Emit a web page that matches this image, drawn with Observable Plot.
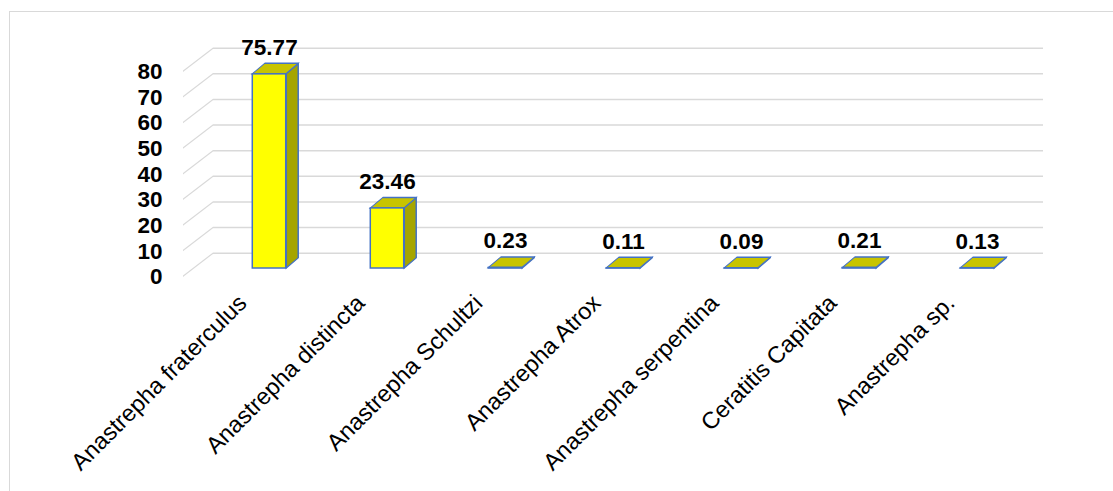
<!DOCTYPE html>
<html>
<head>
<meta charset="utf-8">
<script src="https://cdn.jsdelivr.net/npm/d3@7"></script>
<script src="https://cdn.jsdelivr.net/npm/@observablehq/plot@0.6"></script>
<style>
  html, body { margin: 0; padding: 0; background: #fff; overflow: hidden; }
  #frame { position: absolute; left: 9px; top: 11px; width: 1300px; height: 700px;
           border: 1.5px solid #d9d9d9; box-sizing: border-box; }
  #chart { position: absolute; left: 0; top: 0; }
</style>
</head>
<body>
<div id="frame"></div>
<div id="chart"></div>
<script>
// Fruit-fly species captured (% of total)
const species = [
  "Anastrepha fraterculus",
  "Anastrepha distincta",
  "Anastrepha Schultzi",
  "Anastrepha Atrox",
  "Anastrepha serpentina",
  "Ceratitis Capitata",
  "Anastrepha sp."
];
const percents = [75.77, 23.46, 0.23, 0.11, 0.09, 0.21, 0.13];
const yTicks = [0, 10, 20, 30, 40, 50, 60, 70, 80];

const rows = species.map((s, i) => ({species: s, value: percents[i]}));

const outline = "#4472C4";
const font = "'Liberation Sans', Arial, sans-serif";
const fmt = d3.format(".2f");

// depth of the bar prism, in pixels, and width of its front face
const barDepthX = 12.5, barDepthY = 10.5;
const frontFace = 34;
const band = 830 / species.length;
const side = (band - frontFace) / 2;

const chart = Plot.plot({
  width: 1113,
  height: 491,
  marginLeft: 208,
  marginRight: 75,
  marginTop: 63,
  marginBottom: 223,
  x: {domain: species, padding: 0, axis: null},
  y: {domain: [0, 80]},
  style: {fontFamily: font, color: "black", background: "transparent", overflow: "visible"},
  marks: [
    // back-wall gridlines
    Plot.ruleY(yTicks, {y: d => d, dx: 5, dy: -15.3, stroke: "#d9d9d9", strokeWidth: 1.5}),
    // side-wall gridlines (sheared into diagonals below)
    Plot.ruleY(yTicks, {y: d => d, dx: -25, dy: 7.7, insetRight: 800,
      stroke: "#d9d9d9", strokeWidth: 1.5}),
    Plot.axisY(yTicks, {tickSize: 0, tickPadding: 46, dy: 8.5, fontSize: 22.5,
      fontWeight: "bold", label: null}),
    // right-hand faces of the bars
    Plot.barY(rows, {x: "species", y1: 0, y2: "value",
      insetLeft: side + frontFace, insetRight: side - barDepthX,
      fill: "#a5a500", stroke: outline, strokeWidth: 1.5}),
    // top faces
    Plot.barY(rows, {x: "species", y1: "value", y2: "value",
      insetTop: -barDepthY, insetBottom: 0, insetLeft: side, insetRight: side,
      fill: "#c8c400", stroke: outline, strokeWidth: 1.5}),
    // front faces
    Plot.barY(rows, {x: "species", y1: 0, y2: "value",
      insetLeft: side, insetRight: side,
      fill: "#ffff00", stroke: outline, strokeWidth: 1.5}),
    // value labels
    Plot.text(rows, {x: "species", y: "value", text: d => fmt(d.value),
      lineAnchor: "bottom", dy: -19.5, fontSize: 22.5, fontWeight: "bold", fill: "black"}),
    // category labels
    Plot.text(species, {x: d => d, frameAnchor: "bottom", text: d => d,
      rotate: -45, textAnchor: "end", lineAnchor: "bottom", dx: -21.5, dy: 36,
      fontSize: 23.5, fill: "black"})
  ]
});

// Shear the side faces, top faces and wall gridlines into an oblique 3D look
function shear(elements, origin, transform) {
  elements.forEach(el => {
    el.style.transformBox = "fill-box";
    el.style.transformOrigin = origin;
    el.style.transform = transform;
  });
}
const barGroups = chart.querySelectorAll('g[aria-label="bar"]');
const ruleGroups = chart.querySelectorAll('g[aria-label="rule"]');
shear(barGroups[0].querySelectorAll("rect"), "left center",
  `skewY(${Math.atan2(-barDepthY, barDepthX) * 180 / Math.PI}deg)`);
shear(barGroups[1].querySelectorAll("rect"), "center bottom",
  `skewX(${Math.atan2(barDepthX, -barDepthY) * 180 / Math.PI - 180}deg)`);
shear(ruleGroups[1].querySelectorAll("line"), "left center", "skewY(-37.5deg)");

document.getElementById("chart").appendChild(chart);
</script>
</body>
</html>
